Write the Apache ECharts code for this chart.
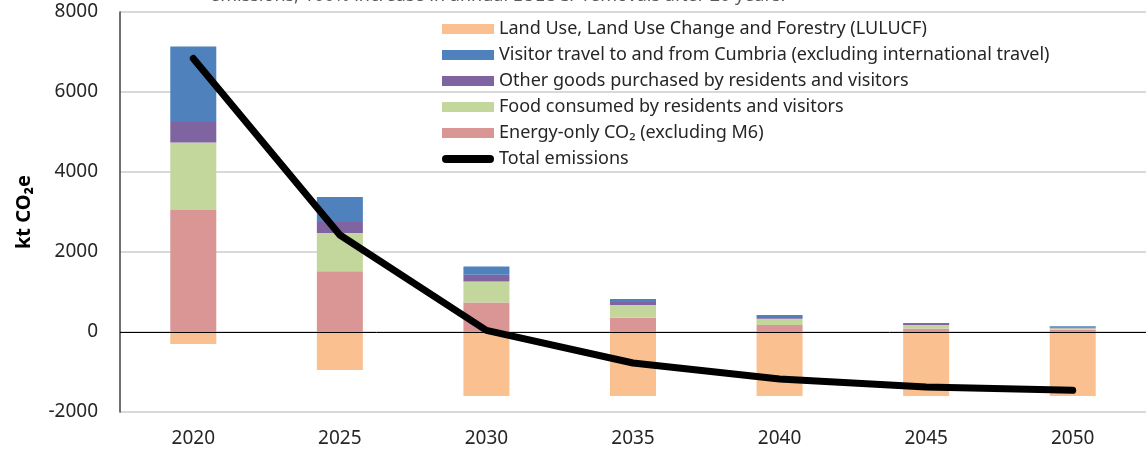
<!DOCTYPE html>
<html>
<head>
<meta charset="utf-8">
<script src="https://cdn.jsdelivr.net/npm/echarts@6/dist/echarts.min.js"></script>
<style>
  html, body { margin: 0; padding: 0; background: #fff; }
  #chart { width: 1146px; height: 452px; }
</style>
</head>
<body>
<div id="chart"></div>
<script>
const years = ['2020', '2025', '2030', '2035', '2040', '2045', '2050'];
const energy = [3050, 1520, 740, 358, 175, 90, 55];
const food = [1690, 955, 525, 317, 158, 85, 37];
const otherGoods = [510, 275, 167, 75, 42, 25, 25];
const visitorTravel = [1890, 625, 208, 75, 50, 25, 25];
const lulucf = [-300, -950, -1600, -1600, -1600, -1600, -1600];
const totals = [6840, 2425, 40, -775, -1175, -1375, -1458];

const names = {
  lulucf: 'Land Use, Land Use Change and Forestry (LULUCF)',
  visitor: 'Visitor travel to and from Cumbria (excluding international travel)',
  other: 'Other goods purchased by residents and visitors',
  food: 'Food consumed by residents and visitors',
  energy: 'Energy-only CO₂ (excluding M6)',
  total: 'Total emissions'
};

const font = 'Noto Sans, sans-serif';
const chart = echarts.init(document.getElementById('chart'));

function bar(name, data, color) {
  return {
    name: name,
    type: 'bar',
    stack: 'all',
    barWidth: 46,
    data: data,
    itemStyle: { color: color },
    emphasis: { disabled: true }
  };
}

const energyBar = bar(names.energy, energy, '#d99694');
energyBar.markLine = {
  silent: true,
  symbol: 'none',
  label: { show: false },
  lineStyle: { color: '#000', width: 1, type: 'solid' },
  data: [{ yAxis: 0 }]
};

var option = {
  animation: false,
  backgroundColor: '#ffffff',
  title: {
    text: 'emissions; 100% increase in annual LULUCF removals after 20 years.',
    left: 205,
    top: -18,
    textStyle: { fontFamily: font, fontSize: 18, fontWeight: 'normal', color: '#595959' }
  },
  grid: { left: 120, right: -3, top: 12, bottom: 40 },
  legend: {
    orient: 'vertical',
    left: 437,
    top: 15,
    itemWidth: 52,
    itemHeight: 10,
    itemGap: 8,
    textStyle: { fontFamily: font, fontSize: 18, lineHeight: 18, color: '#262626' },
    data: [
      { name: names.lulucf, icon: 'rect' },
      { name: names.visitor, icon: 'rect' },
      { name: names.other, icon: 'rect' },
      { name: names.food, icon: 'rect' },
      { name: names.energy, icon: 'rect' },
      { name: names.total, icon: 'path://M4,0 H48 A4,4 0 0 1 48,8 H4 A4,4 0 0 1 4,0 Z' }
    ]
  },
  xAxis: {
    type: 'category',
    data: years,
    axisLine: { show: false, onZero: false },
    axisTick: { show: false },
    axisLabel: { fontFamily: font, fontSize: 19, color: '#262626', margin: 17 }
  },
  yAxis: {
    type: 'value',
    min: -2000,
    max: 8000,
    interval: 2000,
    name: 'kt CO₂e',
    nameLocation: 'middle',
    nameGap: 86,
    nameTextStyle: { fontFamily: font, fontSize: 20, fontWeight: 'bold', color: '#000' },
    axisLine: { show: true, lineStyle: { color: '#404040', width: 1.5 } },
    axisTick: { show: false },
    axisLabel: {
      fontFamily: font, fontSize: 19, color: '#262626', margin: 22,
      formatter: function (v) { return String(v); }
    },
    splitLine: { lineStyle: { color: '#d9d9d9', width: 2 } }
  },
  series: [
    energyBar,
    bar(names.food, food, '#c3d69b'),
    bar(names.other, otherGoods, '#8064a2'),
    bar(names.visitor, visitorTravel, '#4f81bd'),
    bar(names.lulucf, lulucf, '#fac090'),
    {
      name: names.total,
      type: 'line',
      data: totals,
      symbol: 'none',
      z: 5,
      itemStyle: { color: '#000' },
      lineStyle: { color: '#000', width: 7, cap: 'round', join: 'round' },
      emphasis: { disabled: true }
    }
  ]
};

chart.setOption(option, true);
</script>
</body>
</html>
